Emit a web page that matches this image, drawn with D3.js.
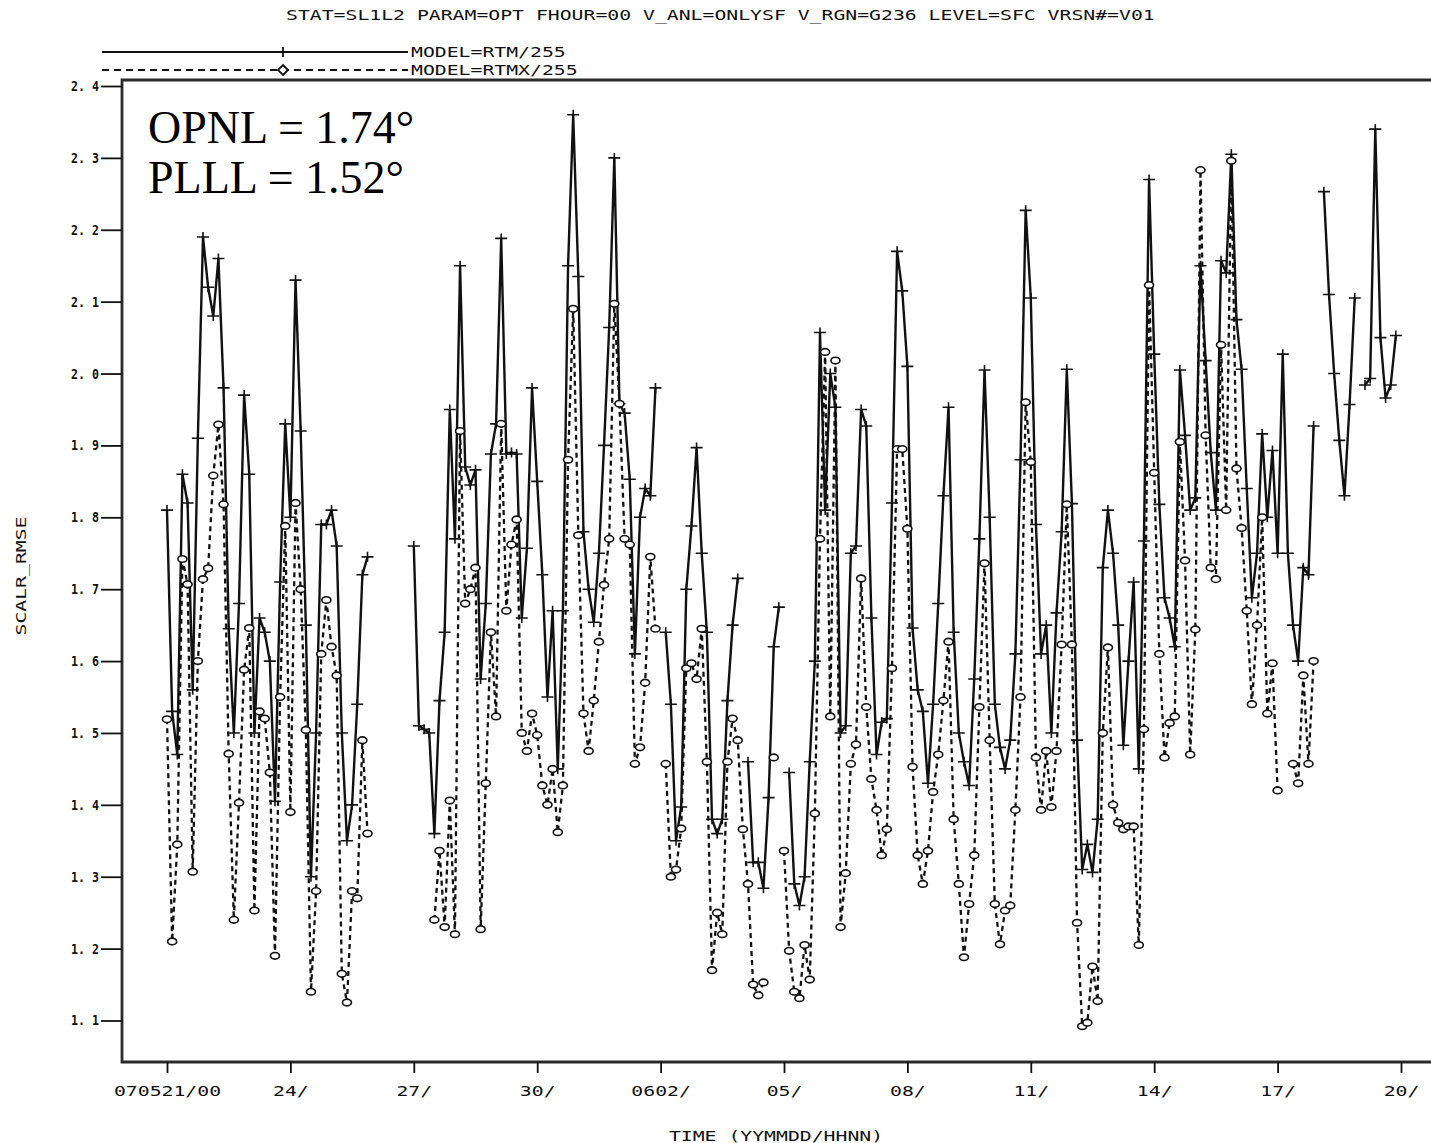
<!DOCTYPE html>
<html>
<head>
<meta charset="utf-8">
<script src="https://cdn.jsdelivr.net/npm/d3@7"></script>
<style>
  html, body { margin: 0; padding: 0; background: #fff; }
  svg { display: block; }
</style>
</head>
<body>
<svg id="chart" width="1431" height="1143"></svg>
<script>
// Surface scalar RMSE every 3 hours, 2007-05-21 00Z to 2007-06-20 00Z (one row = one day)
const rtm = [
  1.81, 1.53, 1.47, 1.86, 1.82, 1.56, 1.91, 2.19,
  2.12, 2.08, 2.16, 1.98, 1.645, 1.50, 1.68, 1.97,
  1.86, 1.50, 1.66, 1.64, 1.60, 1.405, 1.71, 1.93,
  1.80, 2.13, 1.92, 1.65, 1.30, 1.50, 1.79, 1.79,
  1.81, 1.76, 1.50, 1.35, 1.40, 1.54, 1.72, 1.745,
  null, null, null, null, null, null, null, null,
  1.76, 1.51, 1.505, 1.50, 1.36, 1.545, 1.64, 1.95,
  1.77, 2.15, 1.87, 1.845, 1.866, 1.575, 1.68, 1.888,
  1.93, 2.188, 1.888, 1.89, 1.888, 1.66, 1.757, 1.98,
  1.85, 1.72, 1.55, 1.67, 1.45, 1.67, 2.15, 2.36,
  2.135, 1.78, 1.70, 1.654, 1.75, 1.90, 2.064, 2.30,
  1.958, 1.945, 1.853, 1.61, 1.80, 1.84, 1.83, 1.98,
  null, 1.64, 1.54, 1.35, 1.397, 1.70, 1.788, 1.897,
  1.75, 1.64, 1.38, 1.36, 1.38, 1.545, 1.65, 1.715,
  null, 1.46, 1.32, 1.32, 1.284, 1.41, 1.62, 1.675,
  null, 1.445, 1.29, 1.26, 1.30, 1.46, 1.60, 2.057,
  1.81, 2.00, 1.953, 1.50, 1.51, 1.75, 1.76, 1.95,
  1.927, 1.66, 1.47, 1.515, 1.52, 1.82, 2.17, 2.115,
  2.01, 1.646, 1.56, 1.53, 1.43, 1.54, 1.68, 1.83,
  1.953, 1.64, 1.50, 1.46, 1.427, 1.575, 1.77, 2.005,
  1.80, 1.54, 1.48, 1.45, 1.49, 1.61, 1.88, 2.227,
  2.105, 1.79, 1.61, 1.65, 1.50, 1.667, 1.78, 2.006,
  1.819, 1.49, 1.31, 1.345, 1.306, 1.38, 1.73, 1.81,
  1.75, 1.65, 1.483, 1.60, 1.71, 1.45, 1.767, 2.27,
  2.027, 1.818, 1.688, 1.66, 1.62, 2.005, 1.914, 1.81,
  1.827, 2.15, 2.018, 1.89, 1.81, 2.157, 2.14, 2.305,
  2.075, 2.006, 1.84, 1.688, 1.75, 1.916, 1.80, 1.893,
  1.75, 2.027, 1.75, 1.65, 1.60, 1.73, 1.72, 1.927,
  null, 2.253, 2.11, 2.00, 1.907, 1.83, 1.957, 2.105,
  null, 1.984, 1.993, 2.34, 2.05, 1.966, 1.984, 2.053,
  null
];

const rtmx = [
  1.519, 1.21, 1.345, 1.742, 1.707, 1.307, 1.60, 1.714,
  1.729, 1.858, 1.929, 1.818, 1.471, 1.24, 1.403, 1.588,
  1.646, 1.253, 1.53, 1.52, 1.445, 1.19, 1.55, 1.788,
  1.39, 1.82, 1.70, 1.504, 1.14, 1.28, 1.61, 1.685,
  1.62, 1.58, 1.165, 1.125, 1.28, 1.27, 1.49, 1.36,
  null, null, null, null, null, null, null, null,
  null, null, null, null, 1.24, 1.336, 1.23, 1.406,
  1.22, 1.92, 1.68, 1.70, 1.73, 1.227, 1.43, 1.64,
  1.523, 1.93, 1.67, 1.762, 1.797, 1.50, 1.475, 1.527,
  1.497, 1.427, 1.40, 1.45, 1.362, 1.427, 1.88, 2.09,
  1.775, 1.527, 1.475, 1.545, 1.627, 1.706, 1.77, 2.097,
  1.958, 1.77, 1.762, 1.457, 1.48, 1.57, 1.745, 1.645,
  null, 1.457, 1.30, 1.31, 1.367, 1.59, 1.597, 1.575,
  1.645, 1.46, 1.17, 1.25, 1.22, 1.46, 1.52, 1.49,
  1.366, 1.29, 1.15, 1.135, 1.153, null, 1.466, null,
  1.336, 1.197, 1.14, 1.131, 1.205, 1.157, 1.388, 1.77,
  2.03, 1.523, 2.018, 1.23, 1.305, 1.457, 1.484, 1.715,
  1.536, 1.436, 1.393, 1.33, 1.366, 1.59, 1.895, 1.895,
  1.784, 1.453, 1.33, 1.29, 1.336, 1.418, 1.47, 1.545,
  1.627, 1.38, 1.29, 1.188, 1.262, 1.33, 1.536, 1.736,
  1.49, 1.262, 1.206, 1.253, 1.26, 1.393, 1.55, 1.96,
  1.877, 1.466, 1.393, 1.475, 1.397, 1.475, 1.623, 1.818,
  1.623, 1.236, 1.092, 1.097, 1.175, 1.127, 1.50, 1.619,
  1.40, 1.375, 1.366, 1.37, 1.37, 1.205, 1.505, 2.123,
  1.862, 1.61, 1.466, 1.514, 1.523, 1.905, 1.74, 1.47,
  1.644, 2.283, 1.914, 1.73, 1.714, 2.04, 1.81, 2.296,
  1.868, 1.785, 1.67, 1.54, 1.65, 1.80, 1.527, 1.597,
  1.42, null, null, 1.457, 1.43, 1.58, 1.457, 1.60,
  null, null, null, null, null, null, null, null,
  null, null, null, null, null, null, null, null,
  null
];

const xTickLabels = ["070521/00", "24/", "27/", "30/", "0602/", "05/", "08/", "11/", "14/", "17/", "20/"];
const yTickValues = [2.4, 2.3, 2.2, 2.1, 2.0, 1.9, 1.8, 1.7, 1.6, 1.5, 1.4, 1.3, 1.2, 1.1];

const titleText = "STAT=SL1L2 PARAM=OPT FHOUR=00 V_ANL=ONLYSF V_RGN=G236 LEVEL=SFC VRSN#=V01";
const seriesNames = ["MODEL=RTM/255", "MODEL=RTMX/255"];
const notes = ["OPNL = 1.74\u00B0", "PLLL = 1.52\u00B0"];

// ---------------------------------------------------------------------------
const svg = d3.select("#chart");
const mono = "'DejaVu Sans Mono', 'Liberation Mono', monospace";
const CH = 11.9;               // advance of one character of the plot lettering
const ink = "#111";

const frame = { left: 122, top: 80, right: 1431, bottom: 1062 };
const startTime = new Date(Date.UTC(2007, 4, 21, 0));
const endTime = new Date(Date.UTC(2007, 5, 20, 0));
const stepMs = 3 * 3600 * 1000;
const timeAt = i => new Date(startTime.getTime() + i * stepMs);

const x = d3.scaleUtc().domain([startTime, endTime]).range([167, 1401]);
const y = d3.scaleLinear().domain([1.1, 2.4]).range([1020.5, 86]);

const asPoints = arr => arr.map((v, i) => ({ t: timeAt(i), v }));
const rtmPts = asPoints(rtm);
const rtmxPts = asPoints(rtmx);

// plot lettering: stretched monospace text of a fixed advance per character
function letter(sel, str, opts) {
  const t = sel.append("text")
    .attr("x", opts.x).attr("y", opts.y)
    .attr("font-family", mono)
    .attr("font-size", opts.size || 14)
    .attr("font-weight", opts.weight || "normal")
    .attr("fill", ink)
    .attr("text-anchor", opts.anchor || "start")
    .attr("textLength", str.length * (opts.ch || CH))
    .attr("lengthAdjust", "spacingAndGlyphs")
    .text(str);
  if (opts.transform) t.attr("transform", opts.transform);
  return t;
}

// title
letter(svg, titleText, { x: 286, y: 20 });

// legend
const legend = svg.append("g");
const legendRows = [
  { y: 52, dash: null, marker: "plus", name: seriesNames[0] },
  { y: 70, dash: "7,5", marker: "diamond", name: seriesNames[1] }
];
legendRows.forEach(r => {
  legend.append("line")
    .attr("x1", 102).attr("x2", 408).attr("y1", r.y).attr("y2", r.y)
    .attr("stroke", ink).attr("stroke-width", 1.8)
    .attr("stroke-dasharray", r.dash);
  if (r.marker === "plus") {
    legend.append("path")
      .attr("d", `M283,${r.y - 5}V${r.y + 5}`)
      .attr("stroke", ink).attr("stroke-width", 1.8);
  } else {
    legend.append("path")
      .attr("d", `M283,${r.y - 5}L288,${r.y}L283,${r.y + 5}L278,${r.y}Z`)
      .attr("fill", "#fff").attr("stroke", ink).attr("stroke-width", 1.8);
  }
  letter(legend, r.name, { x: 411, y: r.y + 5 });
});

// frame
svg.append("path")
  .attr("d", `M${frame.right},${frame.top}H${frame.left}V${frame.bottom}H${frame.right}`)
  .attr("fill", "none").attr("stroke", "#2a2a2a").attr("stroke-width", 2.8);

// y axis
const yAxis = d3.axisLeft(y)
  .tickValues(yTickValues)
  .tickSize(21)
  .tickPadding(2)
  .tickFormat(d => d3.format(".1f")(d).replace(".", ". "));
const gy = svg.append("g").attr("transform", `translate(${frame.left},0)`).call(yAxis);
gy.select(".domain").remove();
gy.selectAll(".tick line").attr("stroke", ink).attr("stroke-width", 1.8);
gy.selectAll(".tick text")
  .attr("font-family", mono).attr("font-size", 14).attr("font-weight", "bold")
  .attr("fill", ink)
  .attr("textLength", 28).attr("lengthAdjust", "spacingAndGlyphs");

// x axis
const xTickDates = xTickLabels.map((_, i) => timeAt(i * 24));
const xAxis = d3.axisBottom(x)
  .tickValues(xTickDates)
  .tickSize(11)
  .tickPadding(13)
  .tickFormat((d, i) => xTickLabels[i]);
const gx = svg.append("g").attr("transform", `translate(0,${frame.bottom})`).call(xAxis);
gx.select(".domain").remove();
gx.selectAll(".tick line").attr("stroke", ink).attr("stroke-width", 1.8);
gx.selectAll(".tick text")
  .attr("font-family", mono).attr("font-size", 14)
  .attr("fill", ink)
  .attr("textLength", (d, i) => xTickLabels[i].length * CH)
  .attr("lengthAdjust", "spacingAndGlyphs");

// axis titles
letter(svg, "TIME (YYMMDD/HHNN)", { x: 776, y: 1141, anchor: "middle" });
letter(svg, "SCALR_RMSE", { x: 0, y: 0, anchor: "middle",
  transform: "translate(26,576) rotate(-90)" });

// series lines
const line = d3.line()
  .defined(d => d.v != null)
  .x(d => x(d.t))
  .y(d => y(d.v));

svg.append("path")
  .datum(rtmPts)
  .attr("d", line)
  .attr("fill", "none").attr("stroke", ink).attr("stroke-width", 2.4)
  .attr("stroke-linejoin", "miter");

svg.append("path")
  .datum(rtmxPts)
  .attr("d", line)
  .attr("fill", "none").attr("stroke", ink).attr("stroke-width", 2.3)
  .attr("stroke-dasharray", "5,4");

// markers
svg.append("g").selectAll("path")
  .data(rtmPts.filter(d => d.v != null))
  .join("path")
  .attr("d", d => {
    const px = x(d.t), py = y(d.v);
    return `M${px - 6},${py}H${px + 6}M${px},${py - 5}V${py + 5}`;
  })
  .attr("stroke", ink).attr("stroke-width", 1.6);

svg.append("g").selectAll("ellipse")
  .data(rtmxPts.filter(d => d.v != null))
  .join("ellipse")
  .attr("cx", d => x(d.t)).attr("cy", d => y(d.v))
  .attr("rx", 4.5).attr("ry", 3.3)
  .attr("fill", "#fff").attr("stroke", ink).attr("stroke-width", 1.6);

// summary figures
const noteG = svg.append("g")
  .attr("font-family", "'Liberation Serif', 'Times New Roman', serif")
  .attr("font-size", 46).attr("fill", "#000");
notes.forEach((s, i) => {
  noteG.append("text").attr("x", 148).attr("y", 143 + i * 50).text(s);
});
</script>
</body>
</html>
